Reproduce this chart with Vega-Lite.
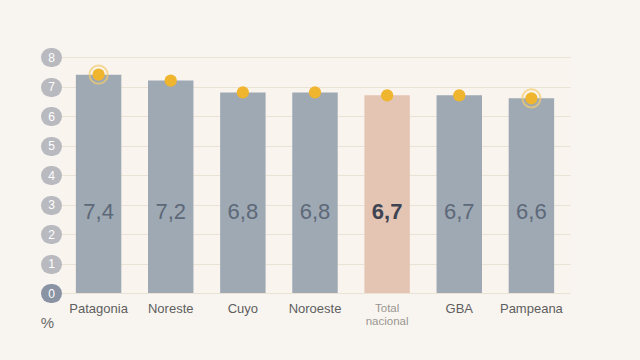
{
  "$schema": "https://vega.github.io/schema/vega-lite/v6.json",
  "autosize": "none",
  "width": 510,
  "height": 236,
  "padding": {"left": 60, "top": 57, "right": 70, "bottom": 67},
  "background": "#f8f5f0",
  "config": {
    "view": {"stroke": null, "fill": "#faf4ee"},
    "font": "Liberation Sans"
  },
  "data": {
    "values": [
      {"region": "Patagonia", "value": 7.4},
      {"region": "Noreste", "value": 7.2},
      {"region": "Cuyo", "value": 6.8},
      {"region": "Noroeste", "value": 6.8},
      {"region": "Total nacional", "value": 6.7},
      {"region": "GBA", "value": 6.7},
      {"region": "Pampeana", "value": 6.6}
    ]
  },
  "transform": [
    {"calculate": "replace(format(datum.value, '.1f'), '.', ',')", "as": "label"}
  ],
  "encoding": {
    "x": {
      "field": "region",
      "type": "nominal",
      "sort": null,
      "scale": {"paddingInner": 0.37, "paddingOuter": 0.22},
      "axis": {
        "title": null,
        "labelAngle": 0,
        "domain": false,
        "ticks": false,
        "labelPadding": 9,
        "labelFontSize": {"condition": {"test": "datum.value == 'Total nacional'", "value": 11.5}, "value": 13},
        "labelColor": {"condition": {"test": "datum.value == 'Total nacional'", "value": "#9a9590"}, "value": "#5e5e5e"},
        "labelExpr": "datum.value == 'Total nacional' ? ['Total', 'nacional'] : datum.value",
        "labelLineHeight": 13
      }
    },
    "y": {
      "field": "value",
      "type": "quantitative",
      "scale": {"domain": [0, 8]},
      "axis": {
        "title": "%",
        "titleAngle": 0,
        "titleFontSize": 15,
        "titleFontWeight": "normal",
        "titleColor": "#6a6a6a",
        "titleX": -5,
        "titleY": 265,
        "titleAlign": "center",
        "titleBaseline": "middle",
        "values": [0, 1, 2, 3, 4, 5, 6, 7, 8],
        "format": "d",
        "tickCount": 12,
        "labelOverlap": false,
        "domain": false,
        "offset": 8,
        "tickSize": 2,
        "tickWidth": 19,
        "tickCap": "round",
        "tickColor": {"condition": {"test": "datum.value == 0", "value": "#8a93a3"}, "value": "#b9babf"},
        "tickOpacity": 1,
        "labelAlign": "center",
        "labelBaseline": "middle",
        "labelPadding": -1,
        "labelFontSize": 12,
        "labelColor": "#ffffff",
        "gridColor": "#ebe2d6",
        "gridWidth": 1
      }
    }
  },
  "layer": [
    {
      "mark": {"type": "bar"},
      "encoding": {
        "color": {
          "condition": {"test": "datum.region == 'Total nacional'", "value": "#e4c5b4"},
          "value": "#9ea9b4"
        }
      }
    },
    {
      "transform": [{"filter": "datum.region != 'Total nacional'"}],
      "mark": {"type": "text", "fontSize": 22, "baseline": "middle", "color": "#5d6878"},
      "encoding": {
        "y": {"datum": 2.75},
        "text": {"field": "label"}
      }
    },
    {
      "transform": [{"filter": "datum.region == 'Total nacional'"}],
      "mark": {"type": "text", "fontSize": 22, "baseline": "middle", "color": "#3e4452", "fontWeight": "bold"},
      "encoding": {
        "y": {"datum": 2.75},
        "text": {"field": "label"}
      }
    },
    {
      "transform": [{"filter": "datum.region == 'Patagonia' || datum.region == 'Pampeana'"}],
      "mark": {"type": "point", "filled": false, "size": 330, "strokeWidth": 2, "color": "#f3cd6e"},
      "encoding": {}
    },
    {
      "mark": {"type": "circle", "size": 150, "color": "#efb52f", "opacity": 1},
      "encoding": {}
    }
  ]
}
